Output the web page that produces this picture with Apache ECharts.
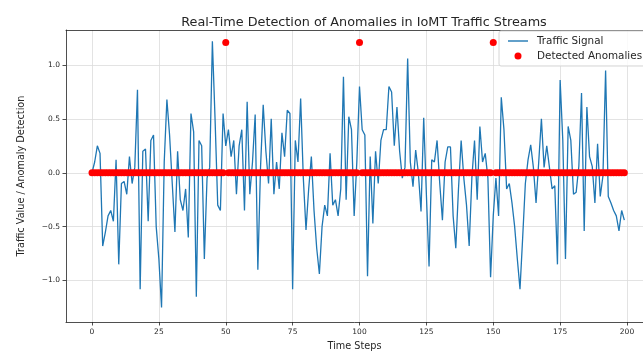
<!DOCTYPE html>
<html>
<head>
<meta charset="utf-8">
<script src="https://cdn.jsdelivr.net/npm/echarts@6/dist/echarts.min.js"></script>
<style>html,body{margin:0;padding:0;background:#fff;}#c{width:643px;height:356px;}</style>
</head>
<body>
<div id="c"></div>
<script>
const titleText = 'Real-Time Detection of Anomalies in IoMT Traffic Streams';
const xTicks = [0, 25, 50, 75, 100, 125, 150, 175, 200];
const yTicks = [-1.0, -0.5, 0.0, 0.5, 1.0];
const traffic = [
  0.00, 0.10, 0.25, 0.18, -0.68, -0.55, -0.40, -0.35, -0.45, 0.12,
  -0.85, -0.10, -0.08, -0.20, 0.15, -0.10, 0.05, 0.77, -1.08, 0.20,
  0.22, -0.45, 0.30, 0.35, -0.50, -0.80, -1.25, 0.10, 0.68, 0.35,
  -0.10, -0.55, 0.20, -0.25, -0.35, -0.15, -0.60, 0.55, 0.38, -1.15,
  0.30, 0.25, -0.80, -0.05, 0.05, 1.22, 0.50, -0.30, -0.35, 0.55,
  0.25, 0.40, 0.15, 0.30, -0.20, 0.25, 0.40, -0.35, 0.66, -0.20,
  0.10, 0.54, -0.90, 0.05, 0.63, 0.20, -0.10, 0.50, -0.20, 0.10,
  -0.15, 0.37, 0.15, 0.58, 0.55, -1.08, 0.30, 0.10, 0.69, -0.05,
  -0.53, -0.15, 0.15, -0.35, -0.70, -0.94, -0.50, -0.30, -0.40, 0.18,
  -0.30, -0.25, -0.40, -0.15, 0.89, -0.25, 0.52, 0.40, -0.40, 0.10,
  0.80, 0.40, 0.35, -0.96, 0.15, -0.47, 0.20, -0.10, 0.30, 0.40,
  0.40, 0.80, 0.75, 0.25, 0.61, 0.20, -0.05, 0.05, 1.06, 0.10,
  -0.13, 0.21, 0.00, -0.36, 0.51, -0.20, -0.87, 0.12, 0.10, 0.30,
  -0.10, -0.44, 0.10, 0.24, 0.24, -0.40, -0.70, -0.15, 0.30, -0.05,
  -0.30, -0.68, -0.05, 0.30, -0.25, 0.43, 0.10, 0.18, -0.05, -0.97,
  -0.40, -0.05, -0.40, 0.70, 0.40, -0.15, -0.10, -0.28, -0.50, -0.80,
  -1.08, -0.60, -0.10, 0.12, 0.26, 0.05, -0.28, 0.10, 0.50, 0.05,
  0.25, 0.05, -0.15, -0.12, -0.85, 0.86, 0.30, -0.80, 0.43, 0.30,
  -0.20, -0.18, 0.06, 0.74, -0.54, 0.61, 0.15, 0.06, -0.28, 0.27,
  -0.22, -0.03, 0.95, -0.22, -0.28, -0.35, -0.40, -0.54, -0.35, -0.44
];
const anomalyIndices = [50, 100, 150];
const anomalyLevel = 1.21;

const steps = traffic.map((_, i) => i);
const anomalies = steps.map(i => anomalyIndices.includes(i) ? anomalyLevel : 0);

const FONT = 'DejaVu Sans';
const TXT = '#262626';
const fmtY = v => v.toFixed(1).replace('-', '\u2212');
const X_MIN = -9.72, X_MAX = 205.98;

const chart = echarts.init(document.getElementById('c'), null, {renderer: 'canvas'});
chart.setOption({
  animation: false,
  backgroundColor: '#ffffff',
  title: {
    text: titleText, left: 359, top: 11, textAlign: 'center',
    textStyle: {fontFamily: FONT, fontSize: 12.8, fontWeight: 'normal', color: TXT}
  },
  grid: {left: 66, top: 30, bottom: 33, right: 0, show: false},
  legend: {
    orient: 'vertical', left: 499, top: 31,
    padding: [5, 8, 5, 9], itemGap: 5,
    backgroundColor: 'rgba(255,255,255,0.8)', borderColor: '#d6d6d6', borderWidth: 1, borderRadius: 2,
    itemWidth: 20, itemHeight: 7,
    textStyle: {fontFamily: FONT, fontSize: 10.4, color: TXT, padding: [0, 0, 0, 4]},
    data: [
      {name: 'Traffic Signal', icon: 'path://M0,0 L20,0 L20,1.4 L0,1.4 Z'},
      {name: 'Detected Anomalies', icon: 'circle'}
    ]
  },
  xAxis: [{
    type: 'value', min: X_MIN, max: X_MAX,
    name: 'Time Steps', nameLocation: 'middle', nameGap: 19,
    nameTextStyle: {fontFamily: FONT, fontSize: 9.7, color: TXT},
    axisLine: {show: true, onZero: false, lineStyle: {color: '#222', width: 0.8}},
    axisTick: {show: true, length: 3.5, lineStyle: {color: '#222', width: 0.8}, customValues: xTicks},
    axisLabel: {fontFamily: FONT, fontSize: 7.5, color: TXT, margin: 6, customValues: xTicks, formatter: v => String(v)},
    splitLine: {show: true, lineStyle: {color: '#dcdcdc', width: 0.8}}
  }, {
    type: 'value', min: X_MIN, max: X_MAX, position: 'top',
    axisLine: {show: true, onZero: false, lineStyle: {color: '#222', width: 0.8}},
    axisTick: {show: false}, axisLabel: {show: false}, splitLine: {show: false}
  }],
  yAxis: {
    type: 'value', min: -1.385, max: 1.325,
    name: 'Traffic Value / Anomaly Detection', nameLocation: 'middle', nameGap: 40, nameRotate: 90,
    nameTextStyle: {fontFamily: FONT, fontSize: 9.7, color: TXT},
    axisLine: {show: true, onZero: false, lineStyle: {color: '#222', width: 0.8}},
    axisTick: {show: true, length: 3.5, lineStyle: {color: '#222', width: 0.8}, customValues: yTicks},
    axisLabel: {fontFamily: FONT, fontSize: 7.5, color: TXT, margin: 6, customValues: yTicks, formatter: fmtY},
    splitLine: {show: true, lineStyle: {color: '#dcdcdc', width: 0.8}}
  },
  series: [
    {
      name: 'Traffic Signal', type: 'line', symbol: 'none', xAxisIndex: 0,
      data: steps.map(i => [i, traffic[i]]),
      lineStyle: {color: '#1f77b4', width: 1.3}, itemStyle: {color: '#1f77b4'}, z: 2
    },
    {
      name: 'Detected Anomalies', type: 'scatter', symbolSize: 7, xAxisIndex: 0,
      data: steps.map(i => [i, anomalies[i]]),
      itemStyle: {color: '#ff0000', opacity: 1}, z: 3
    }
  ]
});
</script>
</body>
</html>
